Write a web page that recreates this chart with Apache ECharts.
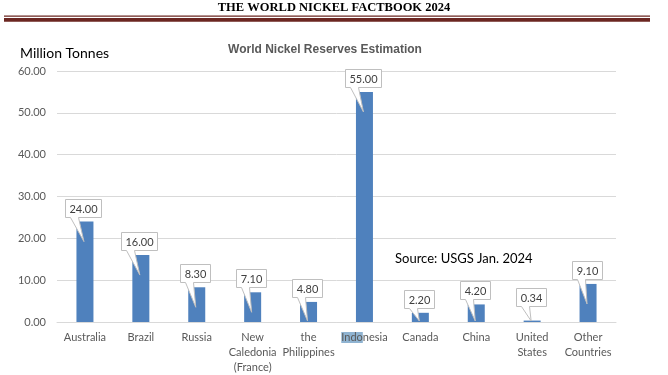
<!DOCTYPE html>
<html>
<head>
<meta charset="utf-8">
<script src="https://cdn.jsdelivr.net/npm/echarts@6/dist/echarts.min.js"></script>
<style>
html,body{margin:0;padding:0;background:#fff;}
#c{width:668px;height:375px;}
</style>
</head>
<body>
<div id="c"></div>
<script>
const categories = ['Australia','Brazil','Russia','New\nCaledonia\n(France)','the\nPhilippines','Indonesia','Canada','China','United\nStates','Other\nCountries'];
const reserves = [24.00, 16.00, 8.30, 7.10, 4.80, 55.00, 2.20, 4.20, 0.34, 9.10];
const yTicks = [0, 10, 20, 30, 40, 50, 60];

const chart = echarts.init(document.getElementById('c'), null, {renderer: 'canvas'});
const FONT = 'Lato, "Open Sans", sans-serif';
const LABEL_FONT = '11px Lato, "Open Sans", sans-serif';

const measureCtx = document.createElement('canvas').getContext('2d');
measureCtx.font = LABEL_FONT;
function textW(t) { return measureCtx.measureText(t).width; }

function renderCallout(params, api) {
  const idx = api.value(0);
  const val = api.value(1);
  const top = api.coord([idx, val]);
  const base = api.coord([idx, 0]);
  const txt = val.toFixed(2);
  const w = Math.round(textW(txt) + 8);
  const h = 18;
  const gap = val < 1 ? 15 : 5;
  const cx = top[0] - 1.5;
  const L = Math.round(cx - w / 2) + 0.5;
  const R = L + w;
  const B = Math.round(top[1] - gap) + 0.5;
  const T = B - h;
  const tipX = top[0] - 1;
  const tipY = Math.min(top[1] + 20, base[1] - 1);
  const pts = [[L, T], [R, T], [R, B], [L + 13, B], [tipX, tipY], [L + 5, B], [L, B]];
  return {
    type: 'group',
    children: [
      {type: 'polygon', shape: {points: pts}, style: {fill: '#ffffff', stroke: '#bfbfbf', lineWidth: 1}},
      {type: 'text', style: {text: txt, x: (L + R) / 2, y: (T + B) / 2 + 0.5, textAlign: 'center', textVerticalAlign: 'middle', font: LABEL_FONT, fill: '#404040'}}
    ]
  };
}

const option = {
  animation: false,
  backgroundColor: '#ffffff',
  title: {
    text: 'World Nickel Reserves Estimation',
    left: 320, top: 39, textAlign: 'center',
    textStyle: {fontFamily: 'Liberation Sans, Arial, sans-serif', fontSize: 12, fontWeight: 'bold', color: '#595959'}
  },
  grid: {left: 57, right: 52, top: 71, bottom: 53, containLabel: false},
  xAxis: {
    type: 'category',
    data: categories,
    axisLine: {show: true, lineStyle: {color: '#d9d9d9', width: 1}},
    axisTick: {show: false},
    axisLabel: {
      interval: 0, margin: 8, color: '#595959', fontFamily: FONT, fontSize: 11, lineHeight: 15,
      formatter: function (v) {
        if (v === 'Indonesia') return '{hl|Indo}nesia';
        return v;
      },
      rich: {
        hl: {backgroundColor: '#8fb3d1', color: '#595959', fontFamily: FONT, fontSize: 11, lineHeight: 15}
      }
    }
  },
  yAxis: {
    type: 'value',
    min: yTicks[0], max: yTicks[yTicks.length - 1], interval: 10,
    axisLine: {show: false},
    axisTick: {show: false},
    splitLine: {lineStyle: {color: '#d9d9d9', width: 1}},
    axisLabel: {
      margin: 11, color: '#595959', fontFamily: FONT, fontSize: 11,
      formatter: function (v) { return v.toFixed(2); }
    }
  },
  series: [{
    type: 'bar',
    barWidth: 17,
    itemStyle: {color: '#4f81bd'},
    data: reserves,
    z: 2
  }, {
    type: 'custom',
    renderItem: renderCallout,
    data: reserves.map(function (v, i) { return [i, v]; }),
    encode: {x: 0, y: 1},
    z: 5,
    silent: true
  }],
  graphic: [
    {type: 'text', left: 'center', top: 1, style: {text: 'THE WORLD NICKEL FACTBOOK 2024', font: 'bold 12.5px "Liberation Serif", "DejaVu Serif", serif', fill: '#000000'}},
    {type: 'rect', shape: {x: 4, y: 15.5, width: 646, height: 1.2}, style: {fill: '#6b2621'}},
    {type: 'rect', shape: {x: 4, y: 18, width: 646, height: 3.7}, style: {fill: '#6b2621'}},
    {type: 'text', left: 20, top: 46, style: {text: 'Million Tonnes', font: '14px Lato, "Open Sans", sans-serif', fill: '#000000'}},
    {type: 'text', left: 395, top: 252, style: {text: 'Source: USGS Jan. 2024', font: '13px Lato, "Open Sans", sans-serif', fill: '#000000'}}
  ]
};
chart.setOption(option);
</script>
</body>
</html>
